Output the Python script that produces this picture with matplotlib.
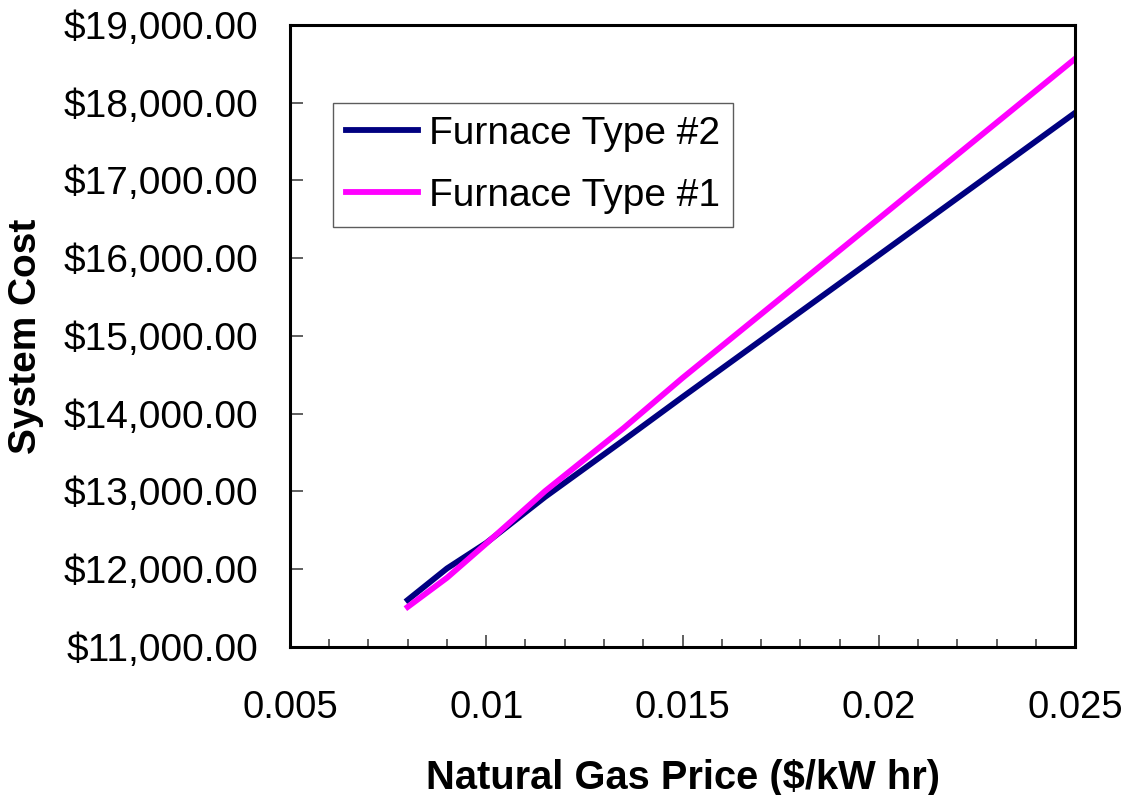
import matplotlib.pyplot as plt
from matplotlib.ticker import MultipleLocator, FuncFormatter

plt.rcParams['font.family'] = ['Liberation Sans', 'DejaVu Sans']

# natural gas price ($/kW hr) and total system cost for each furnace
precio = [0.008, 0.009, 0.010, 0.0115, 0.0135, 0.015, 0.020, 0.025]
costo_tipo2 = [11605, 12010, 12338, 12930, 13660, 14215, 16040, 17870]
costo_tipo1 = [11515, 11890, 12330, 13005, 13815, 14460, 16510, 18565]

fig = plt.figure(figsize=(11.23, 7.95), dpi=100)
ax = fig.add_axes([0.2582, 0.1862, 0.6991, 0.7824])

ax.plot(precio, costo_tipo2, color="#000080", lw=4.2, label="Furnace Type #2")
ax.plot(precio, costo_tipo1, color="#FF00FF", lw=4.2, label="Furnace Type #1")

ax.set_xlim(0.005, 0.025)
ax.set_ylim(11000, 19000)
ax.xaxis.set_major_locator(MultipleLocator(0.005))
ax.xaxis.set_minor_locator(MultipleLocator(0.001))
ax.yaxis.set_major_locator(MultipleLocator(1000))
ax.xaxis.set_major_formatter(FuncFormatter(lambda v, p: ("%.3f" % v).rstrip("0")))
ax.yaxis.set_major_formatter(FuncFormatter(lambda v, p: "${:,.2f}".format(v)))

for s in ax.spines.values():
    s.set_linewidth(2.2)
ax.tick_params(axis="x", which="major", direction="in", length=9, width=1.2,
               color="#444444", labelsize=27.5, pad=31)
ax.tick_params(axis="x", which="minor", direction="in", length=6, width=1.2,
               color="#444444")
ax.tick_params(axis="y", which="major", direction="in", length=9, width=1.2,
               color="#444444", labelsize=28, pad=23)

ax.set_xlabel("Natural Gas Price ($/kW hr)", fontsize=28.7, fontweight="bold")
ax.xaxis.set_label_coords(0.5, -0.18)
ax.set_ylabel("System Cost", fontsize=28, fontweight="bold")
ax.yaxis.set_label_coords(-0.313, 0.5)

leg = ax.legend(loc="upper left", bbox_to_anchor=(0.055, 0.875), fontsize=28,
                frameon=True, fancybox=False, handlelength=1.85,
                labelspacing=0.68, borderpad=0.33, handletextpad=0.28,
                borderaxespad=0)
leg.get_frame().set_edgecolor("#333333")
leg.get_frame().set_linewidth(1.0)

plt.savefig("out.png", dpi=100)
